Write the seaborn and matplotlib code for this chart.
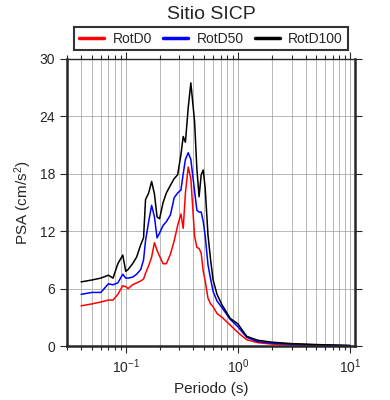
import numpy as np
import pandas as pd
import matplotlib
matplotlib.use("Agg")
import matplotlib.pyplot as plt
import seaborn as sns

# periodos (s) y espectros PSA (cm/s2)
periodo = [0.04, 0.05, 0.06, 0.07, 0.077, 0.085, 0.094, 0.1, 0.105, 0.115,
           0.125, 0.136, 0.144, 0.15, 0.16, 0.17, 0.18, 0.19, 0.2, 0.215,
           0.23, 0.25, 0.27, 0.29, 0.31, 0.325, 0.34, 0.36, 0.38, 0.41,
           0.43, 0.45, 0.47, 0.49, 0.51, 0.54, 0.57, 0.6, 0.65, 0.72,
           0.85, 1.0, 1.1, 1.2, 1.5, 2.0, 3.0, 5.0, 7.0, 10.0]

rotd0 = [4.2, 4.4, 4.6, 4.8, 4.8, 5.4, 6.3, 6.2, 6.0, 6.4,
         6.6, 6.8, 7.0, 7.6, 8.4, 9.3, 10.8, 10.0, 9.4, 8.6,
         8.6, 9.6, 11.0, 12.6, 13.8, 12.3, 16.0, 18.7, 17.5, 11.5,
         10.3, 10.2, 9.7, 7.8, 6.8, 5.0, 4.4, 4.1, 3.4, 3.0,
         2.2, 1.4, 1.0, 0.65, 0.35, 0.2, 0.12, 0.07, 0.05, 0.03]

rotd50 = [5.4, 5.6, 5.6, 6.5, 6.4, 6.6, 7.5, 7.1, 7.1, 7.2,
          7.5, 8.0, 9.0, 11.0, 13.0, 14.7, 13.5, 11.3, 11.8, 12.6,
          13.0, 13.7, 15.5, 16.0, 16.3, 18.0, 19.5, 20.2, 19.5, 16.2,
          14.2, 14.0, 14.0, 13.0, 11.5, 8.5, 7.0, 5.7, 4.7, 4.0,
          2.8, 2.0, 1.4, 0.9, 0.45, 0.3, 0.2, 0.12, 0.08, 0.04]

rotd100 = [6.7, 6.9, 7.1, 7.4, 7.1, 8.6, 9.5, 7.8, 8.0, 8.6,
           9.3, 10.6, 11.3, 15.3, 16.0, 17.2, 15.9, 13.5, 13.3, 15.0,
           16.0, 16.8, 17.5, 17.9, 20.0, 21.9, 21.3, 24.9, 27.5, 23.5,
           18.5, 15.6, 17.9, 18.4, 16.5, 11.6, 9.0, 6.9, 5.4, 4.3,
           2.9, 2.3, 1.6, 1.0, 0.6, 0.4, 0.25, 0.15, 0.1, 0.05]

series = ["RotD0", "RotD50", "RotD100"]
colores = ["#ff0000", "#0000ff", "#000000"]

df = pd.DataFrame({
    "Periodo": periodo * 3,
    "PSA": rotd0 + rotd50 + rotd100,
    "Comp": np.repeat(series, len(periodo)),
})

sns.set_style("ticks")
plt.rcParams["font.family"] = ["Liberation Sans", "DejaVu Sans"]
plt.rcParams["mathtext.fontset"] = "custom"
plt.rcParams["mathtext.rm"] = "Liberation Sans"
plt.rcParams["mathtext.it"] = "Liberation Sans:italic"

fig = plt.figure(figsize=(3.9, 4.0), dpi=100)
ax = fig.add_axes([0.172, 0.135, 0.738, 0.7175])

sns.lineplot(data=df, x="Periodo", y="PSA", hue="Comp", hue_order=series,
             palette=colores, linewidth=1.1, ax=ax)

ax.set_xscale("log")
ax.set_xlim(0.03, 11)
ax.set_ylim(0, 30)
ax.set_yticks([0, 6, 12, 18, 24, 30])
ax.grid(True, which="both", axis="x", color="#9a9a9a", linewidth=0.5)
ax.grid(True, which="major", axis="y", color="#9a9a9a", linewidth=0.5)
ax.set_axisbelow(True)

ax.tick_params(which="both", direction="out", top=True, right=True,
               labelsize=10, width=0.8)
ax.tick_params(which="major", length=5)
ax.tick_params(which="minor", length=3)
for s in ["left", "bottom", "right"]:
    ax.spines[s].set_linewidth(1.8)
ax.spines["top"].set_linewidth(1.0)

ax.set_xlabel("Periodo (s)", fontsize=11)
ax.set_ylabel("PSA (cm/s$^2$)", fontsize=11)
ax.set_title("Sitio SICP", fontsize=14, pad=29)

leg = ax.legend(loc="lower center", bbox_to_anchor=(0.5, 1.03), ncol=3,
                fontsize=10, frameon=True, fancybox=False, handlelength=1.8,
                columnspacing=0.8, borderpad=0.35, handletextpad=0.6,
                borderaxespad=0)
leg.get_frame().set_edgecolor("black")
leg.get_frame().set_linewidth(1.5)
for line in leg.get_lines():
    line.set_linewidth(2.5)

fig.savefig("out.png", dpi=100)
